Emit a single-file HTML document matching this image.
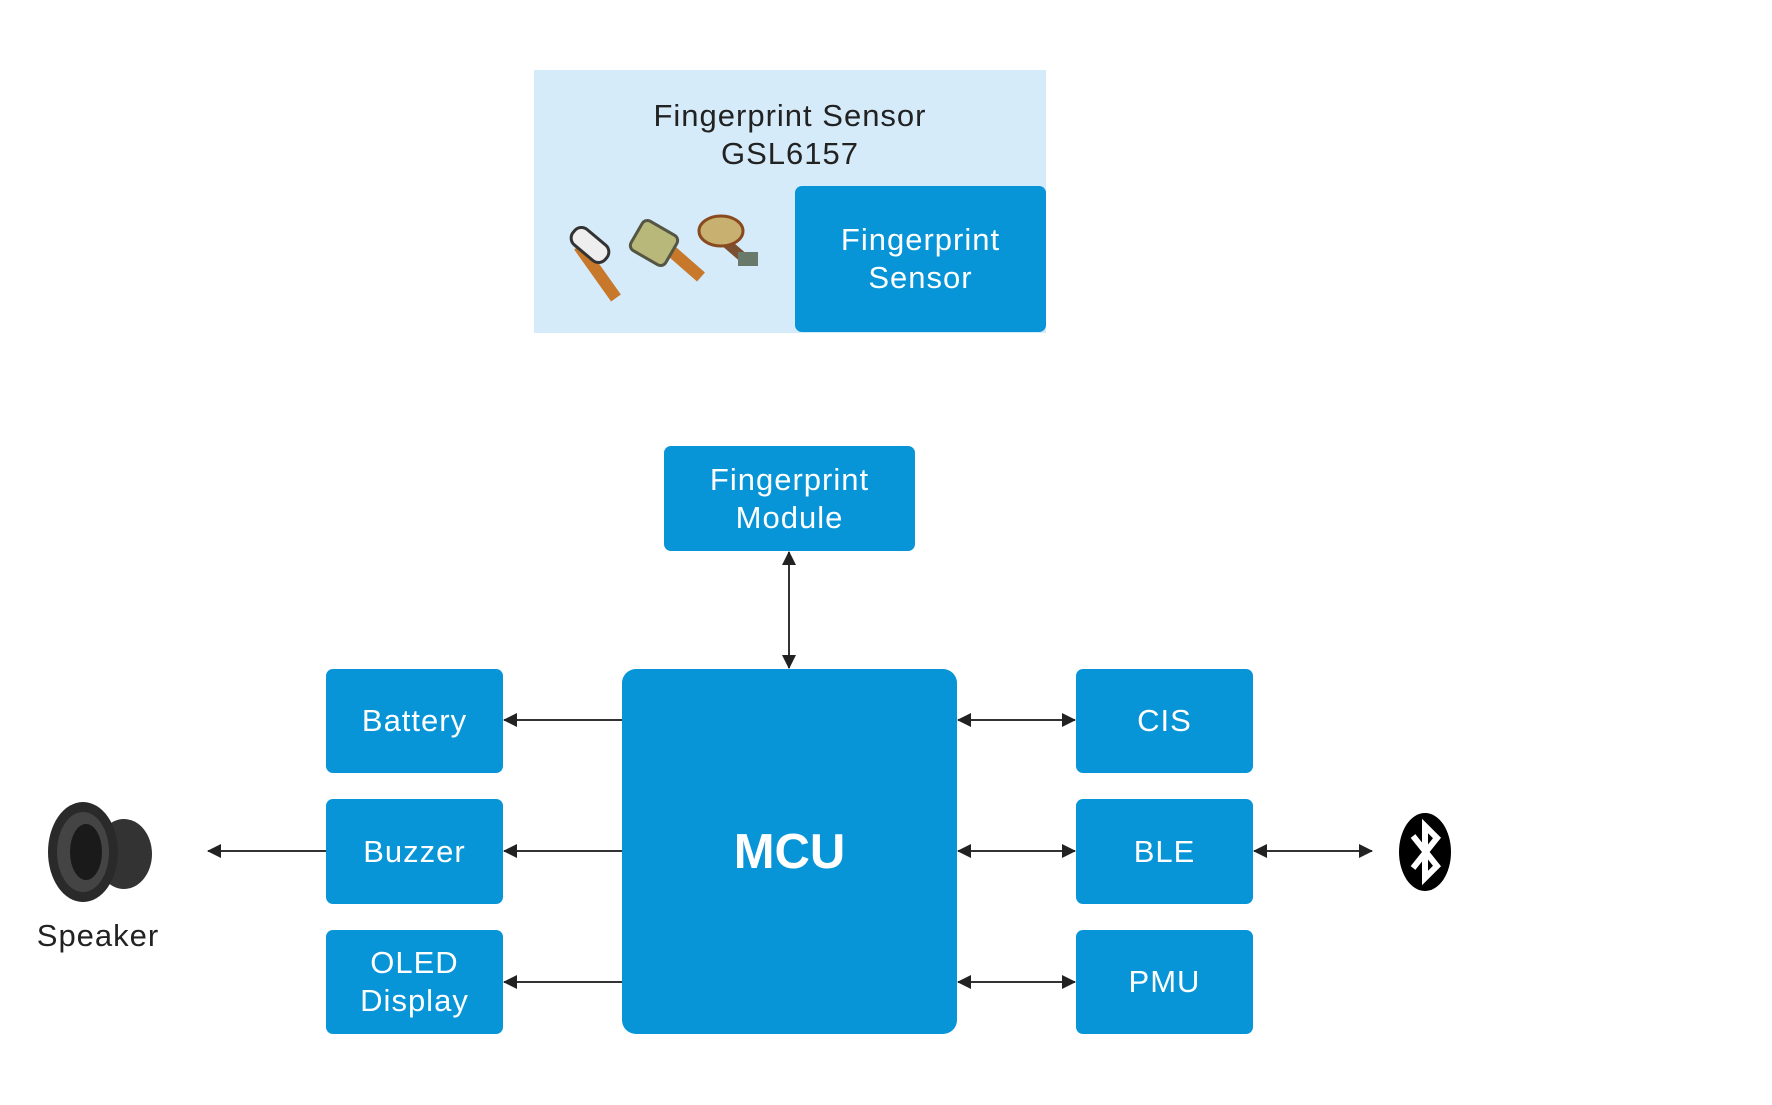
<!DOCTYPE html>
<html><head><meta charset="utf-8"><style>
body{margin:0;width:1772px;height:1105px;background:#fff;position:relative;overflow:hidden;font-family:"Liberation Sans","DejaVu Sans",sans-serif}
#w{position:absolute;left:-2px;top:-2px;width:1772px;height:1105px}
.b{position:absolute;background:#0795d8;color:#fff;border-radius:7px;display:flex;align-items:center;justify-content:center;text-align:center;font-size:31px;line-height:38px;letter-spacing:1px}
svg{position:absolute;left:0;top:0}
</style></head><body><div id="w">
<div style="position:absolute;left:536px;top:72px;width:512px;height:263px;background:#d5ebf9"></div>
<div style="position:absolute;left:536px;top:99px;width:512px;text-align:center;font-size:31px;line-height:38px;letter-spacing:1px;color:#222">Fingerprint Sensor<br>GSL6157</div>
<div class="b" style="left:797px;top:188px;width:251px;height:146px">Fingerprint<br>Sensor</div>
<div class="b" style="left:666px;top:448px;width:251px;height:105px">Fingerprint<br>Module</div>
<div class="b" style="left:624px;top:671px;width:335px;height:365px;font-size:49px;font-weight:bold;border-radius:14px;letter-spacing:0">MCU</div>
<div class="b" style="left:328px;top:671px;width:177px;height:104px">Battery</div>
<div class="b" style="left:328px;top:801px;width:177px;height:105px">Buzzer</div>
<div class="b" style="left:328px;top:932px;width:177px;height:104px">OLED<br>Display</div>
<div class="b" style="left:1078px;top:671px;width:177px;height:104px">CIS</div>
<div class="b" style="left:1078px;top:801px;width:177px;height:105px">BLE</div>
<div class="b" style="left:1078px;top:932px;width:177px;height:104px">PMU</div>
<div style="position:absolute;left:17px;top:920px;width:166px;text-align:center;font-size:31px;letter-spacing:1px;color:#222">Speaker</div>
<svg width="1772" height="1105">
<defs><marker id="a" markerWidth="14" markerHeight="14" refX="13" refY="7" orient="auto-start-reverse" markerUnits="userSpaceOnUse"><path d="M0,0L14,7L0,14z" fill="#222"/></marker></defs>
<g stroke="#333" stroke-width="2">
<line x1="791" y1="554" x2="791" y2="670" marker-start="url(#a)" marker-end="url(#a)"/>
<line x1="624" y1="722" x2="506" y2="722" marker-end="url(#a)"/>
<line x1="624" y1="853" x2="506" y2="853" marker-end="url(#a)"/>
<line x1="624" y1="984" x2="506" y2="984" marker-end="url(#a)"/>
<line x1="328" y1="853" x2="210" y2="853" marker-end="url(#a)"/>
<line x1="960" y1="722" x2="1077" y2="722" marker-start="url(#a)" marker-end="url(#a)"/>
<line x1="960" y1="853" x2="1077" y2="853" marker-start="url(#a)" marker-end="url(#a)"/>
<line x1="960" y1="984" x2="1077" y2="984" marker-start="url(#a)" marker-end="url(#a)"/>
<line x1="1256" y1="853" x2="1374" y2="853" marker-start="url(#a)" marker-end="url(#a)"/>
</g>
<ellipse cx="1427" cy="854" rx="26" ry="39" fill="#000"/>
<path d="M1415,838L1439,868L1427,880L1427,828L1439,840L1415,870" fill="none" stroke="#fff" stroke-width="6"/>
<ellipse cx="126" cy="856" rx="28" ry="35" fill="#333"/>
<ellipse cx="85" cy="854" rx="35" ry="50" fill="#2a2a2a"/>
<ellipse cx="85" cy="854" rx="26" ry="40" fill="#444"/>
<ellipse cx="88" cy="854" rx="16" ry="28" fill="#1a1a1a"/>
<g>
<path d="M581,248L618,300" stroke="#c8782a" stroke-width="12"/>
<rect x="571" y="237" width="42" height="20" rx="9" transform="rotate(40 592 247)" fill="#eee" stroke="#333" stroke-width="3"/>
<path d="M663,244L703,279" stroke="#c8782a" stroke-width="12"/>
<rect x="636" y="228" width="40" height="34" rx="6" transform="rotate(30 656 245)" fill="#b8b87a" stroke="#554" stroke-width="3"/>
<path d="M718,236L748,262" stroke="#7a5030" stroke-width="10"/>
<rect x="740" y="254" width="20" height="14" fill="#6a7a6a"/>
<ellipse cx="723" cy="233" rx="22" ry="15" fill="#c8b070" stroke="#8a4a20" stroke-width="3"/>
</g>
</svg>
</div></body></html>
